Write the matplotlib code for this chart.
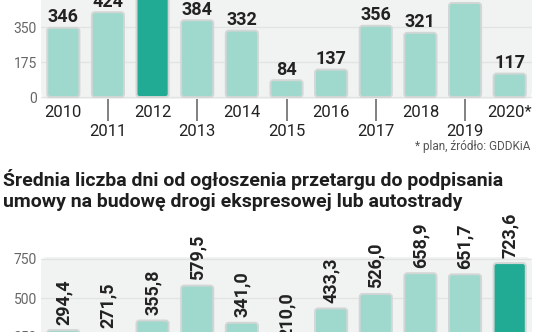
import matplotlib
matplotlib.use("Agg")
from matplotlib import pyplot as plt
from matplotlib.patches import FancyBboxPatch
import numpy as np

# data
years = ["2010", "2011", "2012", "2013", "2014", "2015", "2016", "2017", "2018", "2019", "2020*"]
top_values = [346, 424, 560, 384, 332, 84, 137, 356, 321, 470, 117]   # 2012, 2019 cut off at the top
top_dark = [False, False, True, False, False, False, False, False, False, False, False]

bottom_years = ["2010", "2011", "2012", "2013", "2014", "2015", "2016", "2017", "2018", "2019", "2020"]
bottom_values = [294.4, 271.5, 355.8, 579.5, 341.0, 210.0, 433.3, 526.0, 658.9, 651.7, 723.6]
bottom_dark = [False] * 10 + [True]

top_ticks = [0, 175, 350]
bottom_ticks = [250, 500, 750]

title = "Średnia liczba dni od ogłoszenia przetargu do podpisania\numowy na budowę drogi ekspresowej lub autostrady"
note = "* plan, źródło: GDDKiA"

light = "#9fd9cd"
dark = "#22ab94"
edge = "#d2d6d5"
panel = "#f1f2f2"
grid = "#e2e3e3"

plt.rcParams['font.family'] = ['Roboto', 'DejaVu Sans']

W, H = 536, 332
fig = plt.figure(figsize=(W / 100, H / 100), dpi=100)


def px_axes(left, right, bottom_y, height):
    # pixel box (y measured from top) -> figure fraction
    return fig.add_axes([left / W, (H - bottom_y) / H, (right - left) / W, height / H])


def style(ax, ticks, w_px, h_px):
    ax.set_facecolor("none")
    # rounded grey panel behind the bars
    r = 8
    ax.add_patch(FancyBboxPatch((0, 0), 1, 1, boxstyle=f"round,pad=0,rounding_size={r / w_px}",
                                mutation_aspect=w_px / h_px, transform=ax.transAxes,
                                facecolor=panel, edgecolor="none", zorder=0))
    for s in ax.spines.values():
        s.set_visible(False)
    ax.set_yticks(ticks)
    ax.tick_params(axis="y", length=0, labelsize=10, labelcolor="#666666", pad=3)
    ax.grid(axis="y", color=grid, lw=1, zorder=0.5)
    ax.set_axisbelow(True)
    ax.set_xlim(-0.5, len(years) - 0.5)


def rounded_bars(ax, xs, values, colors, px_per_x, px_per_y):
    bars = ax.bar(xs, values, width=0.72, color=colors)
    r = 3.0
    for b in bars:
        p = FancyBboxPatch((b.get_x(), b.get_y()), b.get_width(), b.get_height(),
                           boxstyle=f"round,pad=0,rounding_size={r / px_per_x}",
                           mutation_aspect=px_per_x / px_per_y,
                           facecolor=b.get_facecolor(), edgecolor=edge, lw=1.4, zorder=2)
        ax.add_patch(p)
        b.set_visible(False)


x = np.arange(len(years))
px_x = 491 / len(years)

# top chart: 0.2 px per unit, zero at y=97
ax1 = px_axes(41, 532, 99, 114)
ax1.set_ylim(-10, 560)
style(ax1, top_ticks, 491, 114)
rounded_bars(ax1, x, top_values, [dark if d else light for d in top_dark], px_x, 0.2)
for xi, v in zip(x, top_values):
    ax1.text(xi, v + 8, str(v), ha="center", va="bottom", fontsize=13, fontweight="bold", color="#222222")

# even years sit right under the bars, odd years hang lower on a tick line
ax1.set_xticks(x[::2], [years[i] for i in x[::2]])
ax1.set_xticks(x[1::2], [years[i] for i in x[1::2]], minor=True)
ax1.tick_params(axis="x", which="major", length=0, pad=4, labelsize=12, labelcolor="#222222")
ax1.tick_params(axis="x", which="minor", length=16, width=1.3, color="#777777", pad=2,
                labelsize=12, labelcolor="#222222")

fig.text(530 / W, (H - 147) / H, note, ha="right", va="center", fontsize=8.5, color="#555555")
fig.text(3 / W, (H - 169) / H, title, ha="left", va="top", fontsize=14, fontweight="bold",
         color="#1e1e1e", linespacing=1.2)

# bottom chart: 0.156 px per unit, zero at y=376 (below the picture)
ax2 = px_axes(41, 532, 376, 765 * 0.156)
ax2.set_ylim(0, 765)
style(ax2, bottom_ticks, 491, 765 * 0.156)
rounded_bars(ax2, x, bottom_values, [dark if d else light for d in bottom_dark], px_x, 0.156)
for xi, v in zip(x, bottom_values):
    ax2.text(xi, v + 35, f"{v:.1f}".replace(".", ","), ha="center", va="bottom", rotation=90,
             fontsize=13, fontweight="bold", color="#222222")
ax2.set_xticks(x)
ax2.set_xticklabels(bottom_years)

fig.savefig("out.png", dpi=100)
